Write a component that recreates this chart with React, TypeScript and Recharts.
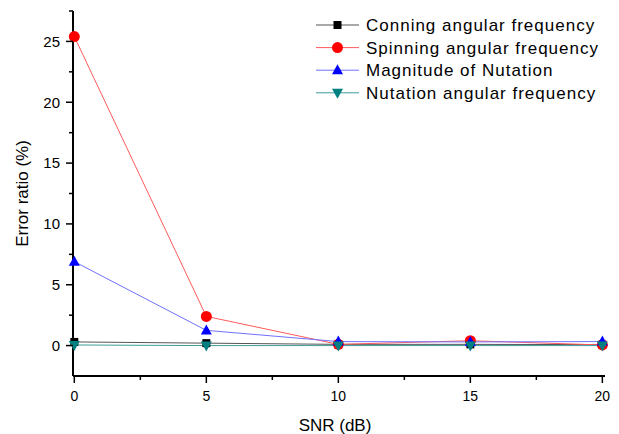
import { LineChart, Line, XAxis, YAxis } from 'recharts';

const snr = [0, 5, 10, 15, 20];
const conning = [0.3, 0.2, 0.1, 0.1, 0.08];
const spinning = [25.4, 2.4, 0.1, 0.4, 0.05];
const magnitude = [6.9, 1.25, 0.33, 0.3, 0.33];
const nutation = [0.05, 0.0, 0.0, 0.0, 0.0];

const xTicks = [0, 2.5, 5, 7.5, 10, 12.5, 15, 17.5, 20];
const yTicks = [0, 2.5, 5, 7.5, 10, 12.5, 15, 17.5, 20, 22.5, 25, 27.5];

const seriesInfo = [
  { key: 'conning', name: 'Conning angular frequency', line: '#555555', fill: '#000000', shape: 'square' },
  { key: 'spinning', name: 'Spinning angular frequency', line: '#ff5a5a', fill: '#ff0000', shape: 'circle' },
  { key: 'magnitude', name: 'Magnitude of Nutation', line: '#7070ff', fill: '#0000ff', shape: 'up' },
  { key: 'nutation', name: 'Nutation angular frequency', line: '#3c9c9c', fill: '#008080', shape: 'down' },
];

const data = snr.map((s, i) => ({
  snr: s,
  conning: conning[i],
  spinning: spinning[i],
  magnitude: magnitude[i],
  nutation: nutation[i],
}));

const FONT = 'Arial, "Liberation Sans", sans-serif';

function Marker({ cx, cy, shape, fill }: { cx: number; cy: number; shape: string; fill: string }) {
  if (cx == null || cy == null) return null;
  if (shape === 'square') return <rect x={cx - 4} y={cy - 4} width={8} height={8} fill={fill} />;
  if (shape === 'circle') return <circle cx={cx} cy={cy} r={5.5} fill={fill} />;
  if (shape === 'up')
    return <polygon points={`${cx},${cy - 6} ${cx + 5.5},${cy + 4} ${cx - 5.5},${cy + 4}`} fill={fill} />;
  return <polygon points={`${cx},${cy + 6} ${cx + 5.5},${cy - 4} ${cx - 5.5},${cy - 4}`} fill={fill} />;
}

const isMajor = (v: number) => v % 5 === 0;

function YTick(props: any) {
  const { x, y, payload } = props;
  const axisX = x + 14;
  const major = isMajor(payload.value);
  return (
    <g>
      <line x1={axisX - (major ? 7 : 4)} x2={axisX} y1={y} y2={y} stroke="#000" strokeWidth={1.5} />
      {major && payload.value <= 25 && (
        <text x={x + 1} y={y} dy="0.35em" textAnchor="end" fontSize={15} fontFamily={FONT} fill="#000">
          {payload.value}
        </text>
      )}
    </g>
  );
}

function XTick(props: any) {
  const { x, y, payload } = props;
  const axisY = y - 15;
  const major = isMajor(payload.value);
  return (
    <g>
      <line x1={x} x2={x} y1={axisY} y2={axisY + (major ? 7 : 4)} stroke="#000" strokeWidth={1.5} />
      {major && (
        <text x={x} y={y} dy="0.71em" textAnchor="middle" fontSize={14} fontFamily={FONT} fill="#000">
          {payload.value}
        </text>
      )}
    </g>
  );
}

function LegendBox() {
  return (
    <svg width={300} height={95} style={{ position: 'absolute', left: 316, top: 12 }}>
      {seriesInfo.map((s, i) => {
        const cy = 13 + i * 22.6;
        return (
          <g key={s.key}>
            <line x1={0} x2={43} y1={cy} y2={cy} stroke={s.line} strokeWidth={1} />
            <Marker cx={21.5} cy={cy} shape={s.shape} fill={s.fill} />
            <text x={50} y={cy} dy="0.36em" fontSize={17} letterSpacing={1} fontFamily={FONT} fill="#000">
              {s.name}
            </text>
          </g>
        );
      })}
    </svg>
  );
}

export default function App() {
  return (
    <div style={{ position: 'absolute', left: 0, top: 0, width: 619, height: 434, background: '#fff' }}>
      <LineChart width={619} height={434} data={data} margin={{ top: 11, right: 14, bottom: 0, left: 0 }}>
        <XAxis
          dataKey="snr"
          type="number"
          domain={[-0.05, 20.1]}
          ticks={xTicks}
          interval={0}
          height={58}
          tickSize={6}
          tickMargin={9}
          tickLine={false}
          axisLine={{ stroke: '#000', strokeWidth: 2 }}
          tick={<XTick />}
          label={{ value: 'SNR (dB)', position: 'insideBottom', offset: 3, dx: -4, fontSize: 17, fontFamily: FONT, fill: '#000' }}
        />
        <YAxis
          type="number"
          domain={[-2.5, 27.5]}
          ticks={yTicks}
          interval={0}
          width={73}
          tickSize={6}
          tickMargin={8}
          tickLine={false}
          axisLine={{ stroke: '#000', strokeWidth: 2 }}
          tick={<YTick />}
          label={{ value: 'Error ratio (%)', angle: -90, position: 'insideLeft', offset: 22, dy: 0, fontSize: 17, fontFamily: FONT, fill: '#000', style: { textAnchor: 'middle' } }}
        />
        {seriesInfo.map((s) => (
          <Line
            key={s.key}
            dataKey={s.key}
            name={s.name}
            type="linear"
            stroke={s.line}
            strokeWidth={1}
            isAnimationActive={false}
            dot={(p: any) => <Marker key={`${s.key}-${p.index}`} cx={p.cx} cy={p.cy} shape={s.shape} fill={s.fill} />}
            activeDot={false}
          />
        ))}
      </LineChart>
      <LegendBox />
    </div>
  );
}
